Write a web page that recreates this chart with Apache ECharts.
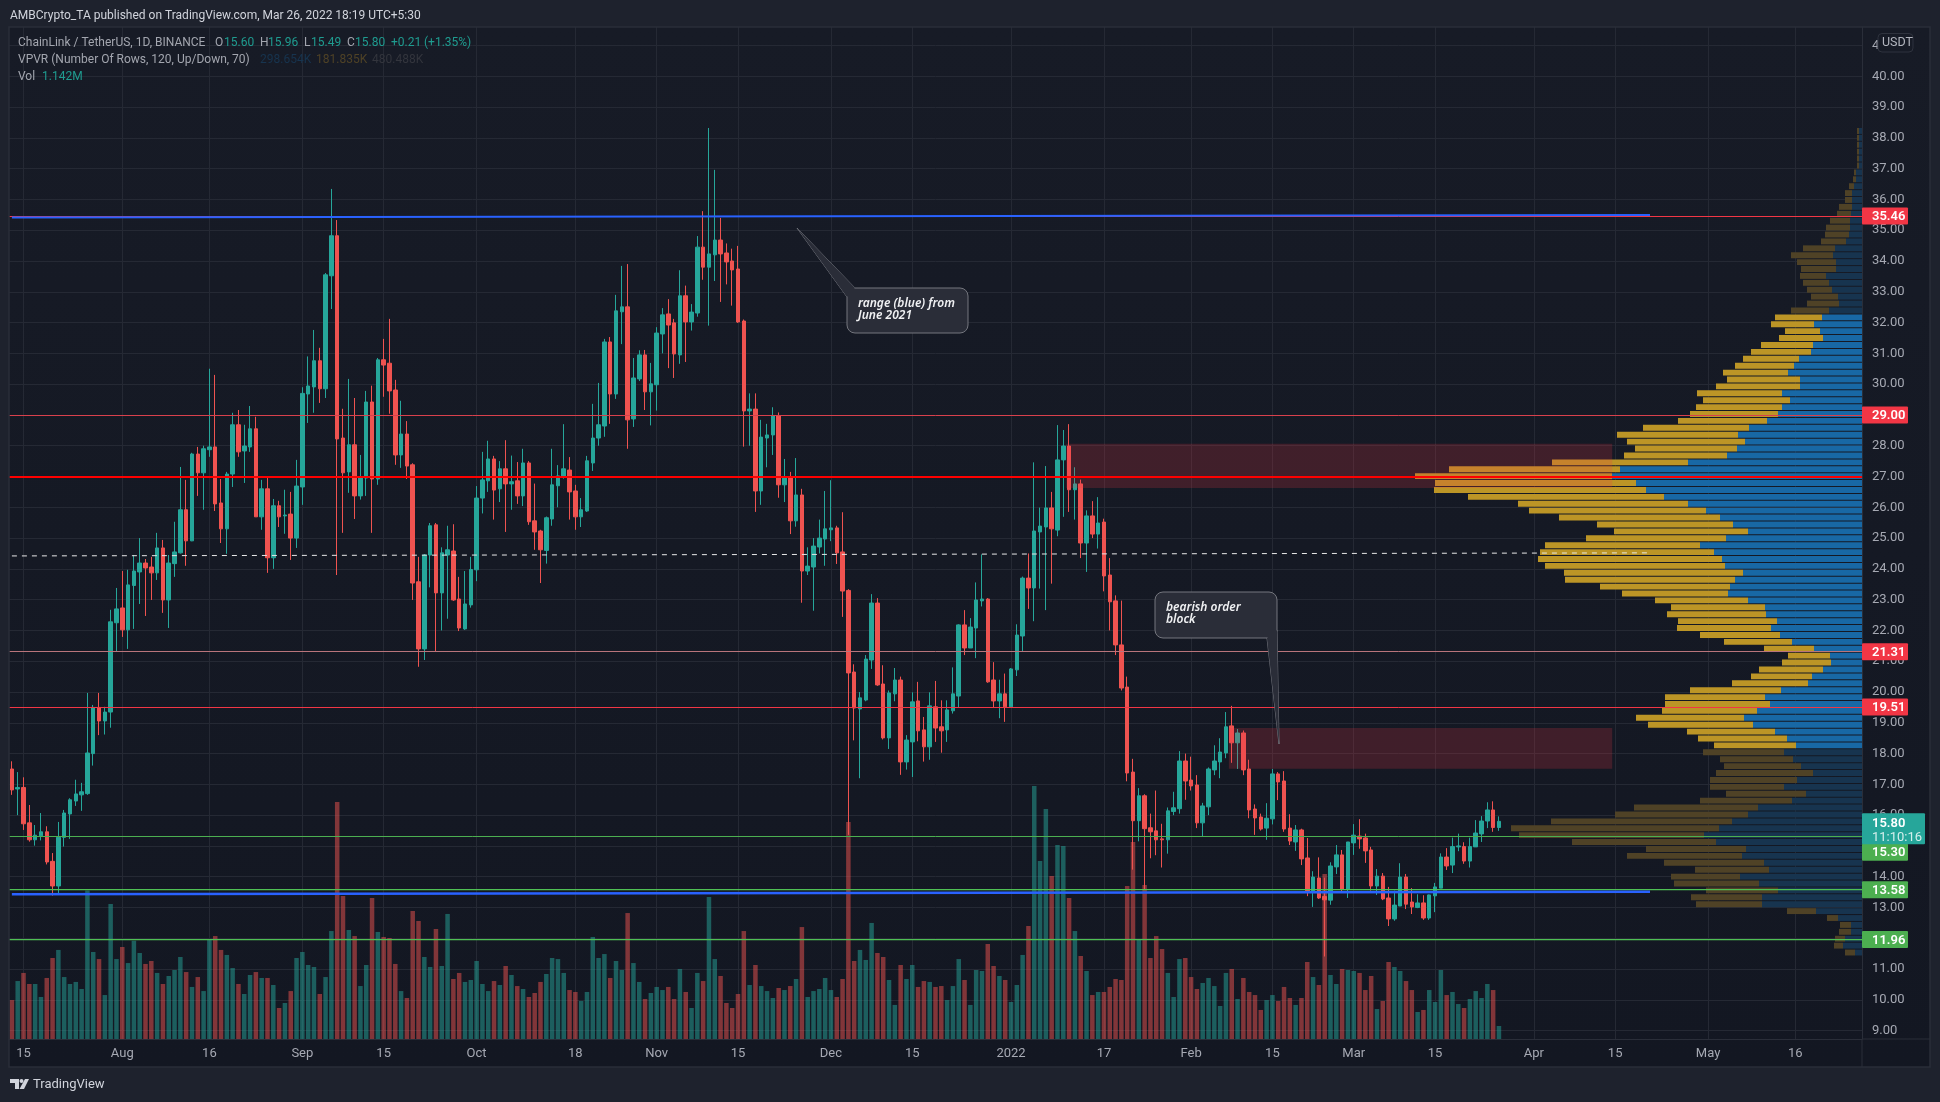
<!DOCTYPE html>
<html>
<head>
<meta charset="utf-8">
<title>ChainLink / TetherUS</title>
<script src="https://cdn.jsdelivr.net/npm/echarts@6/dist/echarts.min.js"></script>
<style>
  html, body { margin: 0; padding: 0; background: #1e222d; overflow: hidden; }
  #chart { width: 1940px; height: 1102px; }
</style>
</head>
<body>
<div id="chart"></div>
<script>
const startDate = "2021-07-13";
const dayCount = 319;

const opens = [
  17.5,16.85,16.9,15.75,15.2,15.33,15.46,14.5,13.7,15.28,
  16.04,16.46,16.66,16.7,18.0,19.5,19.06,19.35,22.25,22.73,
  22.02,23.46,23.9,24.19,24.06,23.87,24.68,22.99,24.17,24.52,
  25.92,24.91,27.73,27.12,27.87,27.96,26.14,25.3,27.08,28.68,
  27.83,27.96,28.55,25.69,26.6,24.36,26.05,25.72,25.78,25.0,
  26.66,29.68,29.91,30.76,29.85,33.52,34.82,28.25,27.15,28.03,
  26.37,26.95,29.42,26.92,30.79,30.68,29.81,27.7,28.38,27.38,
  23.58,21.4,24.45,25.43,23.22,24.45,24.58,23.02,22.05,22.83,
  23.97,26.3,26.86,27.57,26.6,27.25,26.76,26.86,26.37,27.44,
  25.56,25.23,24.6,25.62,26.7,26.99,27.21,26.53,25.69,25.88,
  27.44,28.25,28.64,31.37,29.68,32.35,32.51,28.87,30.17,30.95,
  29.75,29.98,31.63,32.28,31.99,30.95,32.87,32.02,32.31,34.45,
  33.8,34.2,34.68,34.26,34.0,33.74,32.05,29.13,29.19,26.53,
  28.25,28.35,28.97,26.73,26.95,25.56,26.4,23.93,24.06,24.71,
  24.97,25.27,25.33,24.55,23.3,20.65,19.45,19.74,21.04,22.89,
  20.26,18.51,19.94,20.39,17.73,18.38,19.71,18.77,18.22,19.52,
  18.87,18.77,19.39,19.87,22.18,21.43,22.08,22.96,23.02,20.39,
  19.71,19.94,19.52,20.72,21.82,23.7,23.38,25.2,25.36,25.98,
  25.26,27.54,27.99,26.57,26.76,24.84,25.72,25.13,25.52,23.8,
  22.96,21.53,20.16,17.4,15.82,16.63,15.59,15.49,15.23,15.2,
  16.12,16.21,17.76,17.14,16.98,15.75,16.27,17.47,17.73,18.02,
  18.9,18.35,18.67,17.5,16.2,15.94,15.58,15.88,17.34,17.11,
  15.58,15.13,15.52,14.61,13.54,13.96,13.36,13.24,14.32,14.71,
  13.6,15.1,15.32,15.26,14.87,13.7,14.02,13.31,12.63,13.05,
  13.99,13.18,13.0,13.15,12.66,13.38,13.63,14.64,14.38,14.97,
  14.98,14.51,14.97,15.39,15.81,16.17,15.6
];

const closes = [
  16.82,16.9,15.72,15.2,15.35,15.46,14.48,13.7,15.28,16.07,
  16.5,16.69,16.76,18.02,19.5,19.06,19.35,22.28,22.7,22.02,
  23.48,23.93,24.19,24.03,23.87,24.68,22.99,24.19,24.55,25.92,
  24.91,27.73,27.12,27.9,27.96,26.11,25.3,27.08,28.68,27.8,
  27.99,28.55,25.69,26.6,24.36,26.05,25.69,25.75,25.0,26.69,
  29.7,29.94,30.76,29.85,33.55,34.82,28.22,27.12,28.03,26.37,
  26.99,29.42,26.92,30.79,30.62,29.78,27.7,28.38,27.34,23.54,
  21.4,24.45,25.4,23.22,24.52,24.62,22.99,22.08,22.86,23.98,
  26.3,26.89,27.57,26.56,27.25,26.76,26.83,26.37,27.44,25.53,
  25.2,24.62,25.66,26.73,27.02,27.25,26.5,25.69,25.92,27.51,
  28.25,28.68,31.37,29.68,32.38,32.51,28.84,30.2,30.95,29.75,
  30.01,31.66,32.25,31.92,30.98,32.87,32.02,32.34,34.45,33.8,
  34.23,34.68,34.23,33.97,33.71,32.02,29.13,29.19,26.53,28.28,
  28.35,28.97,26.73,26.95,25.56,26.4,23.93,24.09,24.74,25.0,
  25.3,25.33,24.52,23.28,20.62,19.48,19.81,21.07,22.89,20.23,
  18.51,19.97,20.39,17.73,18.44,19.68,18.74,18.22,19.55,18.83,
  18.74,19.42,19.94,22.18,21.43,22.11,22.99,23.02,20.33,19.71,
  19.94,19.52,20.75,21.85,23.7,23.38,25.23,25.39,25.98,25.3,
  27.54,27.99,26.57,26.76,24.84,25.72,25.13,25.49,23.77,22.93,
  21.53,20.13,17.37,15.82,16.63,15.56,15.46,15.2,15.2,16.14,
  16.24,17.76,17.11,16.95,15.75,16.3,17.5,17.76,18.05,18.87,
  18.35,18.67,17.47,16.17,15.91,15.55,15.9,17.34,17.08,15.55,
  15.16,15.52,14.58,13.54,13.99,13.31,13.25,14.35,14.71,13.6,
  15.13,15.35,15.23,14.84,13.7,14.02,13.28,12.63,13.08,13.99,
  13.11,13.02,13.15,12.66,13.41,13.67,14.64,14.35,14.98,15.0,
  14.51,14.98,15.42,15.81,16.17,15.6,15.8
];

const lows = [
  16.66,16.0,15.52,15.14,15.01,15.18,14.4,13.39,13.44,14.98,
  15.23,16.3,16.14,16.66,17.61,18.6,18.62,18.84,21.3,21.79,
  21.4,22.05,22.86,22.47,22.99,23.64,22.57,22.08,23.74,24.5,
  24.1,24.9,26.37,25.92,27.64,25.88,24.84,24.49,26.66,27.64,
  26.79,27.8,25.69,25.27,23.87,24.0,25.36,25.14,24.29,24.68,
  26.08,28.74,29.07,29.39,29.55,32.44,23.8,25.17,26.47,25.62,
  26.25,26.37,25.17,26.73,29.59,29.04,27.38,27.28,26.92,22.99,
  20.82,21.04,23.4,21.33,22.0,22.38,22.96,21.98,22.02,22.74,
  23.6,25.8,26.5,25.6,26.17,25.2,25.92,26.11,26.04,25.43,
  24.62,23.54,24.17,25.4,26.0,26.93,25.6,25.27,25.36,25.85,
  27.18,28.0,28.29,28.71,29.52,31.3,27.9,28.61,30.1,29.16,
  28.66,29.14,31.0,30.52,30.2,30.66,30.72,31.74,32.19,33.39,
  31.9,33.35,32.67,33.24,32.55,31.99,27.97,28.0,25.85,26.08,
  27.3,27.7,26.31,26.17,25.13,25.37,22.9,23.8,22.64,24.5,
  24.1,24.9,24.16,22.44,15.36,18.43,17.2,19.7,20.75,20.2,
  18.46,18.15,19.7,17.31,17.48,17.24,18.4,17.74,17.8,18.38,
  18.03,18.38,19.3,19.5,21.2,21.43,21.1,22.78,20.3,19.5,
  19.15,19.03,19.5,20.52,21.3,22.7,22.3,23.36,22.66,23.52,
  25.06,25.69,25.85,25.6,24.35,23.9,25.0,24.66,23.27,22.0,
  21.2,20.05,17.1,14.23,15.15,13.58,14.6,14.7,14.3,14.75,
  16.0,16.05,16.5,16.8,15.58,15.3,16.0,17.3,17.2,17.85,
  17.7,17.5,17.3,15.9,15.36,15.5,15.2,15.7,16.49,15.46,
  15.03,14.84,14.38,13.37,13.02,13.28,11.41,13.09,14.09,13.53,
  13.31,14.71,14.91,14.45,13.55,13.41,13.24,12.4,12.57,13.05,
  12.95,12.79,12.98,12.6,12.6,12.85,13.63,14.22,14.12,14.83,
  14.42,14.3,14.97,15.13,15.58,15.46,15.49
];

const highs = [
  17.75,17.4,17.23,16.33,15.68,16.07,15.64,14.77,15.78,16.17,
  16.55,17.15,17.05,19.97,19.58,19.97,19.52,22.67,23.38,23.93,
  23.97,24.45,25.0,24.32,24.39,25.17,24.94,24.45,25.53,27.31,
  26.89,27.77,27.96,28.0,30.5,30.3,26.92,27.15,29.07,29.16,
  28.68,29.29,28.94,26.89,26.95,26.27,26.21,26.57,26.5,27.54,
  29.9,30.9,31.76,31.18,33.61,36.34,35.33,29.2,30.17,29.55,
  27.7,29.78,29.95,30.85,31.47,32.12,30.14,29.46,28.8,27.43,
  24.39,24.48,25.49,25.49,24.7,25.4,25.45,23.74,23.93,24.39,
  26.69,27.8,28.16,27.67,27.5,28.18,27.68,27.47,27.9,27.5,
  26.77,25.27,25.7,27.9,27.37,28.7,27.63,26.73,26.3,27.67,
  29.36,30.04,31.47,31.53,32.9,33.84,33.9,30.85,31.1,31.11,
  30.69,31.85,32.47,32.76,32.12,33.7,33.2,32.6,34.81,35.62,
  38.32,36.96,35.4,34.57,34.4,34.49,32.1,29.7,29.7,28.84,
  28.71,29.25,29.08,27.57,27.15,27.6,26.6,24.7,25.0,25.6,
  26.53,26.88,25.4,25.84,23.34,20.9,20.0,21.2,23.18,23.05,
  20.87,20.05,20.78,20.5,18.6,19.99,20.33,19.19,19.99,20.36,
  19.73,19.73,20.8,22.2,22.66,22.4,23.56,24.47,23.05,20.97,
  20.4,20.6,20.78,22.2,23.75,24.5,27.46,25.99,27.34,26.5,
  28.67,28.51,28.7,27.3,26.9,25.9,26.2,26.33,25.63,24.35,
  23.14,22.97,20.5,17.83,16.88,16.68,16.05,16.8,15.72,16.25,
  16.76,18.08,18.0,17.9,17.3,16.4,17.55,18.27,18.5,19.35,
  19.55,18.8,18.75,17.8,16.35,16.05,16.39,17.5,17.4,17.43,
  16.03,15.68,15.56,15.26,14.18,14.63,13.97,14.47,15.03,14.87,
  15.13,15.71,15.87,15.4,14.97,14.25,14.12,13.67,13.55,14.44,
  14.09,13.63,13.43,13.4,13.42,13.8,14.76,14.93,15.27,15.4,
  15.12,15.27,15.84,15.97,16.42,16.45,15.96
];

// millions of LINK
const volumes = [
  3.42,5.09,5.80,4.83,4.83,3.69,5.36,7.11,7.82,5.44,
  4.83,5.01,4.39,13.03,7.64,7.02,3.86,11.85,7.02,8.08,
  6.67,8.63,7.55,6.59,6.85,5.80,4.83,5.53,6.06,7.20,
  5.88,4.57,5.44,4.21,8.69,9.04,7.82,7.38,6.23,4.83,
  3.95,5.62,5.88,5.36,5.36,4.74,2.72,3.16,4.21,7.11,
  7.64,6.50,6.32,3.95,5.44,9.48,20.81,12.56,9.57,9.04,
  4.65,6.50,12.38,9.40,8.96,8.87,6.59,4.21,3.60,11.24,
  10.36,7.20,6.32,9.66,6.41,10.98,5.27,5.80,5.01,5.18,
  6.85,4.83,4.21,5.09,4.74,6.41,5.62,4.65,4.39,3.69,
  4.04,5.01,5.71,7.11,7.02,5.80,4.30,4.13,3.34,4.13,
  8.96,7.11,7.46,5.36,6.85,6.06,11.06,6.67,5.01,3.51,
  4.04,4.57,4.30,4.57,3.51,6.15,4.13,2.72,5.80,5.09,
  12.47,7.02,5.53,3.16,2.72,3.95,9.48,4.74,6.50,4.65,
  4.21,3.60,4.48,4.30,4.65,5.27,9.83,3.69,4.21,4.39,
  5.36,4.30,3.69,5.27,19.05,6.85,7.82,6.94,10.19,7.55,
  7.20,5.18,2.99,6.50,5.27,6.50,4.57,5.09,5.01,4.57,
  4.65,3.42,4.65,7.02,5.18,2.99,6.06,5.97,8.34,6.41,
  5.53,5.18,3.25,4.74,7.38,9.92,22.22,15.63,20.20,14.31,
  17.04,16.95,12.38,9.48,7.29,5.97,3.86,4.13,4.13,4.57,
  5.27,5.18,13.43,17.30,8.78,13.52,7.11,9.04,7.90,5.80,
  3.69,7.02,7.11,5.44,4.39,4.92,5.36,4.65,2.90,5.80,
  6.15,3.51,5.36,4.13,3.86,2.55,3.42,3.86,3.34,4.57,
  3.60,2.99,3.60,6.76,5.44,4.74,14.49,5.62,4.83,6.15,
  6.06,5.97,5.80,4.30,5.53,2.63,3.34,6.76,6.32,5.97,
  5.09,4.30,2.37,2.55,4.30,3.25,6.06,3.86,4.13,3.07,
  2.72,3.51,4.21,3.60,4.83,4.30,1.14
];

// visible range volume profile, top row first
const vpHigh = 38.32;
const vpLow = 11.41;
const vpValueAreaFirst = 27;
const vpValueAreaLast = 89;
const vpUp = [
  3,3,3,3,3,3,6,6,8,10,10,10,11,12,12,13,16,27,29,26,
  26,36,33,30,24,23,33,40,48,42,39,49,51,63,68,74,62,62,80,72,
  80,84,95,113,124,117,125,135,174,242,250,226,216,198,174,156,142,129,114,136,
  162,148,140,137,119,127,132,134,114,97,96,85,91,82,70,48,32,31,39,50,
  54,81,97,92,105,118,109,87,75,66,78,69,61,49,65,78,56,70,104,114,
  130,143,158,146,116,120,98,93,122,103,84,100,100,46,24,11,11,17,19,7
];
const vpDown = [
  2,2,2,2,2,2,2,3,5,7,7,13,14,20,24,24,25,32,42,39,
  35,26,26,25,27,32,38,47,43,35,44,52,60,56,59,65,73,84,85,87,
  86,88,89,106,121,118,102,103,136,171,197,201,212,196,170,177,161,136,134,140,
  155,174,184,180,179,170,130,106,93,94,99,99,94,80,68,50,42,49,64,61,
  76,91,100,105,95,108,105,88,89,82,81,73,77,97,87,74,80,92,124,133,
  181,208,185,144,100,115,100,74,69,85,72,71,66,29,11,11,12,10,9,10
];

const priceTicks = [
  9,10,11,12,13,14,15,16,17,18,19,20,21,22,23,24,25,
  26,27,28,29,30,31,32,33,34,35,36,37,38,39,40,41
];
const timeTicks = {
  "2021-07-15": "15", "2021-08-01": "Aug", "2021-08-16": "16", "2021-09-01": "Sep",
  "2021-09-15": "15", "2021-10-01": "Oct", "2021-10-18": "18", "2021-11-01": "Nov",
  "2021-11-15": "15", "2021-12-01": "Dec", "2021-12-15": "15", "2022-01-01": "2022",
  "2022-01-17": "17", "2022-02-01": "Feb", "2022-02-15": "15", "2022-03-01": "Mar",
  "2022-03-15": "15", "2022-04-01": "Apr", "2022-04-15": "15", "2022-05-01": "May",
  "2022-05-16": "16"
};

const levels = [
  { price: 35.46, color: "#f23645", width: 1, tag: "#f23645" },
  { price: 29.0, color: "#d8404c", width: 1, tag: "#f23645" },
  { price: 27.0, color: "#ff0000", width: 2 },
  { price: 21.31, color: "#b9747b", width: 1, tag: "#f23645" },
  { price: 19.51, color: "#f23645", width: 1, tag: "#f23645" },
  { price: 15.3, color: "#4caf50", width: 1, tag: "#4caf50", tagShift: 15.5 },
  { price: 13.58, color: "#4fc054", width: 1.25, tag: "#4caf50" },
  { price: 11.96, color: "#4fc054", width: 1.25, tag: "#4caf50" }
];
const trendLines = [
  { from: 35.41, to: 35.49, color: "#2962ff", width: 2 },
  { from: 13.43, to: 13.51, color: "#2962ff", width: 2.5 },
  { from: 24.42, to: 24.52, color: "#e8e8e8", width: 1, dash: [5, 5] }
];
const trendEnd = "2022-04-21";
const zones = [
  { from: "2022-01-11", to: "2022-04-15", top: 28.06, bottom: 26.63 },
  { from: "2022-02-08", to: "2022-04-15", top: 18.83, bottom: 17.51 }
];

const UP = "#26a69a";
const DOWN = "#ef5350";
const FONT = 'Roboto, "Noto Sans", sans-serif';

function buildDates(first, count) {
  const result = [];
  const t = Date.parse(first + "T00:00:00Z");
  for (let i = 0; i < count; i++) {
    result.push(new Date(t + i * 86400000).toISOString().slice(0, 10));
  }
  return result;
}

const dates = buildDates(startDate, dayCount);
const isTimeTick = (index, value) => Boolean(timeTicks[value]);

function renderProfileRow(params, api) {
  const row = api.value(0);
  const rowHeight = (vpHigh - vpLow) / vpUp.length;
  const top = vpHigh - row * rowHeight;
  const [right, y0] = api.coord([0, top]);
  const [, y1] = api.coord([0, top - rowHeight]);
  const upEdge = api.coord([api.value(1), top])[0];
  const downEdge = api.coord([api.value(1) + api.value(2), top])[0];
  const bright = row >= vpValueAreaFirst && row <= vpValueAreaLast;
  const height = y1 - y0 - 1;
  return {
    type: "group",
    children: [
      {
        type: "rect",
        shape: { x: upEdge, y: y0, width: right - upEdge, height },
        style: { fill: bright ? "#1868a5" : "#17344f" }
      },
      {
        type: "rect",
        shape: { x: downEdge, y: y0, width: upEdge - downEdge, height },
        style: { fill: bright ? "#bc9526" : "#4f4226" }
      }
    ]
  };
}

function renderZone(params, api) {
  const band = api.size([1, 0])[0];
  const [x0, y0] = api.coord([api.value(0), api.value(2)]);
  const [x1, y1] = api.coord([api.value(1), api.value(3)]);
  return {
    type: "rect",
    shape: { x: x0 - band / 2, y: y0, width: x1 - x0, height: y1 - y0 },
    style: { fill: "rgba(242, 54, 69, 0.2)" }
  };
}

function buildMarkLines() {
  const flat = levels.map((level) => ({
    yAxis: level.price,
    lineStyle: { color: level.color, width: level.width, type: "solid" }
  }));
  const sloped = trendLines.map((line) => [
    { coord: [dates[0], line.from], lineStyle: { color: line.color, width: line.width, type: line.dash || "solid" } },
    { coord: [trendEnd, line.to] }
  ]);
  return flat.concat(sloped);
}

function label(x, y, text, fill, font, extra) {
  return {
    type: "text",
    z: 100,
    silent: true,
    style: Object.assign({ x, y: y + 1, text, fill, font: font || `12px ${FONT}`, textVerticalAlign: "middle" }, extra)
  };
}

function callout(points, box, lines) {
  const [x, y, w, h] = box;
  const textFont = `italic 600 12px "Noto Sans", sans-serif`;
  return [
    {
      type: "polygon",
      z: 50,
      shape: { points },
      style: { fill: "#2a2d38", stroke: "#74767e", lineWidth: 1 }
    },
    {
      type: "rect",
      z: 51,
      shape: { x, y, width: w, height: h, r: 8 },
      style: { fill: "#2a2d38", stroke: "#74767e", lineWidth: 1 }
    },
    {
      type: "polygon",
      z: 52,
      shape: { points: points.slice(0, 2).concat([points[2]]) },
      style: { fill: "#2a2d38" }
    },
    ...lines.map((line, i) => label(x + 11, y + 15 + i * 12, line, "#f0f1f3", textFont))
  ];
}

function headerElements() {
  const dim = "#a3a6af";
  const teal = "#1f9c90";
  return [
    label(10, 15, "AMBCrypto_TA published on TradingView.com, Mar 26, 2022 18:19 UTC+5:30", "#d1d4dc"),
    label(18, 42, "ChainLink / TetherUS, 1D, BINANCE", dim),
    label(215, 42, "O", dim), label(224, 42, "15.60", teal),
    label(260, 42, "H", dim), label(268, 42, "15.96", teal),
    label(304, 42, "L", dim), label(311, 42, "15.49", teal),
    label(347, 42, "C", dim), label(355, 42, "15.80", teal),
    label(391, 42, "+0.21", teal), label(424, 42, "(+1.35%)", teal),
    label(18, 59, "VPVR (Number Of Rows, 120, Up/Down, 70)", dim),
    label(260, 59, "298.654K", "#17344f"),
    label(316, 59, "181.835K", "#4f4226"),
    label(372, 59, "480.488K", "#33353d"),
    label(18, 76, "Vol", dim),
    label(42, 76, "1.142M", teal)
  ];
}

function tagElements(chart) {
  const out = [];
  levels.filter((level) => level.tag).forEach((level) => {
    const y = chart.convertToPixel({ yAxisIndex: 0 }, level.price) + (level.tagShift || 0);
    out.push({
      type: "rect",
      z: 90,
      shape: { x: 1862, y: y - 8.5, width: 46, height: 17, r: 1 },
      style: { fill: level.tag }
    });
    out.push(label(1872, y, level.price.toFixed(2), "#ffffff", `600 13px ${FONT}`));
  });
  const lastY = chart.convertToPixel({ yAxisIndex: 0 }, closes[closes.length - 1]);
  out.push({
    type: "rect",
    z: 91,
    shape: { x: 1862, y: lastY - 8, width: 63, height: 31, r: 1 },
    style: { fill: UP }
  });
  out.push(label(1872, lastY + 1, closes[closes.length - 1].toFixed(2), "#ffffff", `600 13px ${FONT}`));
  out.push(label(1872, lastY + 15, "11:10:16", "#d5efec", `13px ${FONT}`));
  return out;
}

function frameElements() {
  return [
    {
      type: "rect",
      z: -10,
      shape: { x: 9, y: 27, width: 1921, height: 1040 },
      style: {
        fill: new echarts.graphic.LinearGradient(0, 0, 0, 1, [
          { offset: 0, color: "#171b26" },
          { offset: 1, color: "#131722" }
        ])
      }
    },
    {
      type: "rect",
      z: 60,
      silent: true,
      shape: { x: 9, y: 27, width: 1921, height: 1040 },
      style: { fill: null, stroke: "#2a2e39", lineWidth: 1.5 }
    },
    {
      type: "line",
      z: 60,
      shape: { x1: 1862, y1: 1039, x2: 1862, y2: 1067 },
      style: { stroke: "#2a2e39", lineWidth: 1 }
    },
    {
      type: "line",
      z: 60,
      shape: { x1: 1862, y1: 1039, x2: 1930, y2: 1039 },
      style: { stroke: "#2a2e39", lineWidth: 1 }
    },
    {
      type: "rect",
      z: 95,
      shape: { x: 1878, y: 33.5, width: 35, height: 18.5, r: 4 },
      style: { fill: "#171b26", stroke: "#2f333e", lineWidth: 1 }
    },
    label(1882, 42, "USDT", "#b2b5be", `12.5px ${FONT}`)
  ];
}

function logoElements() {
  const fill = "#d1d4dc";
  return [
    { type: "polygon", z: 100, shape: { points: [[10, 1079], [19, 1079], [19, 1089], [15, 1089], [15, 1083], [10, 1083]] }, style: { fill } },
    { type: "circle", z: 100, shape: { cx: 21.5, cy: 1081, r: 2 }, style: { fill } },
    { type: "polygon", z: 100, shape: { points: [[25, 1079], [29, 1079], [24, 1089], [19.5, 1089]] }, style: { fill } },
    label(33, 1084, "TradingView", "#d1d4dc", `13px ${FONT}`)
  ];
}

const chart = echarts.init(document.getElementById("chart"));

const option = {
  backgroundColor: "#1e222d",
  animation: false,
  textStyle: { fontFamily: FONT },
  grid: { left: 9, top: 27, right: 78, bottom: 63, containLabel: false },
  xAxis: [
    {
      type: "category",
      data: dates,
      boundaryGap: true,
      axisLine: { lineStyle: { color: "#2a2e39" } },
      axisTick: { show: false },
      axisLabel: {
        interval: isTimeTick,
        formatter: (value) => timeTicks[value] || "",
        color: "#a6a9b3",
        fontSize: 13,
        margin: 8,
        fontFamily: FONT
      },
      splitLine: {
        show: true,
        interval: isTimeTick,
        alignWithLabel: true,
        lineStyle: { color: "#252934", width: 1 }
      }
    },
    { type: "value", show: false, inverse: true, min: 0, max: 1853, splitLine: { show: false } }
  ],
  yAxis: [
    {
      type: "value",
      position: "right",
      min: 8.73,
      max: 41.6,
      axisLine: { show: true, lineStyle: { color: "#2a2e39" } },
      axisTick: { show: false, customValues: priceTicks },
      axisLabel: {
        customValues: priceTicks,
        formatter: (value) => value.toFixed(2),
        color: "#a6a9b3",
        fontSize: 13,
        margin: 10,
        padding: [2, 0, 0, 0],
        fontFamily: FONT
      },
      splitLine: { show: true, lineStyle: { color: "#252934", width: 1 } }
    },
    { type: "value", show: false, min: 0, max: 88.86, splitLine: { show: false } }
  ],
  series: [
    {
      name: "Vol",
      type: "bar",
      xAxisIndex: 0,
      yAxisIndex: 1,
      z: 1,
      barWidth: 4.5,
      silent: true,
      data: volumes.map((value, i) => ({
        value,
        itemStyle: { color: closes[i] >= opens[i] ? "rgba(38, 166, 154, 0.5)" : "rgba(239, 83, 80, 0.5)" }
      }))
    },
    {
      name: "VPVR",
      type: "custom",
      xAxisIndex: 1,
      yAxisIndex: 0,
      z: 1,
      silent: true,
      renderItem: renderProfileRow,
      data: vpUp.map((up, i) => [i, up, vpDown[i]]),
      encode: { x: 1, y: 0 }
    },
    {
      name: "LINKUSDT",
      type: "candlestick",
      xAxisIndex: 0,
      yAxisIndex: 0,
      z: 2,
      barWidth: 4,
      silent: true,
      itemStyle: {
        color: UP,
        color0: DOWN,
        borderColor: UP,
        borderColor0: DOWN,
        borderColorDoji: UP,
        borderWidth: 1
      },
      data: opens.map((open, i) => [open, closes[i], lows[i], highs[i]]),
      markLine: {
        silent: true,
        symbol: "none",
        animation: false,
        label: { show: false },
        data: buildMarkLines()
      }
    },
    {
      name: "Order blocks",
      type: "custom",
      xAxisIndex: 0,
      yAxisIndex: 0,
      z: 4,
      silent: true,
      renderItem: renderZone,
      data: zones.map((zone) => [dates.indexOf(zone.from), dates.indexOf(zone.to), zone.top, zone.bottom]),
      encode: { x: 0, y: 2 }
    }
  ]
};

chart.setOption(option);

chart.setOption({
  graphic: {
    elements: [
      ...frameElements(),
      ...headerElements(),
      ...logoElements(),
      ...tagElements(chart),
      ...callout([[855, 288], [847, 297], [797, 228]], [847, 288, 121, 45], ["range (blue) from", "June 2021"]),
      ...callout([[1267, 638], [1277, 630], [1279, 744]], [1155, 592, 122, 46], ["bearish order", "block"])
    ]
  }
});
</script>
</body>
</html>
